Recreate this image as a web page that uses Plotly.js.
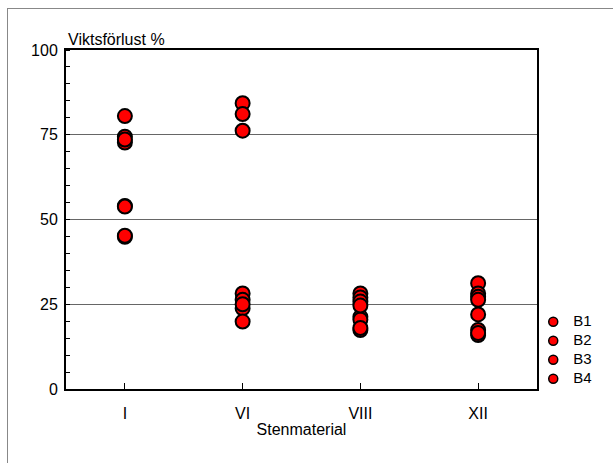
<!DOCTYPE html>
<html>
<head>
<meta charset="utf-8">
<script src="https://cdn.plot.ly/plotly-3.0.1.min.js"></script>
<style>
html,body{margin:0;padding:0;background:#fff;}
#wrap{position:relative;width:613px;height:463px;overflow:hidden;}
#frame{position:absolute;left:7px;top:8px;width:700px;height:600px;border-left:1.5px solid #888;border-top:1.5px solid #888;pointer-events:none;z-index:5;}
#chart{position:absolute;left:0;top:0;width:613px;height:463px;}
</style>
</head>
<body>
<div id="wrap"><div id="chart"></div><div id="frame"></div></div>
<script>
// Categories (stone materials)
var categories = ["I", "VI", "VIII", "XII"];
var seriesNames = ["B1", "B2", "B3", "B4"];
// Each series: two readings per category, order: I, I, VI, VI, VIII, VIII, XII, XII
var xCats = ["I", "I", "VI", "VI", "VIII", "VIII", "XII", "XII"];
var B1 = [80.5, 54.0, 84.3, 28.2, 28.2, 21.3, 31.2, 22.0];
var B2 = [74.4, 44.9, 81.1, 26.3, 27.0, 20.5, 28.2, 17.4];
var B3 = [72.7, 45.2, 76.2, 23.8, 25.8, 17.4, 27.2, 15.9];
var B4 = [73.6, 53.8, 25.0, 19.9, 24.6, 18.0, 26.3, 16.5];
var yTickVals = [0, 25, 50, 75, 100];
var yTickText = ["0", "25", "50", "75", "100"];

var seriesData = [B1, B2, B3, B4];
var traces = [];
seriesData.forEach(function(vals, i) {
  traces.push({
    type: "scatter",
    mode: "markers",
    name: seriesNames[i],
    legendgroup: seriesNames[i],
    showlegend: false,
    x: xCats,
    y: vals,
    marker: {color: "#ff0000", size: 14, line: {color: "#000", width: 2}},
    cliponaxis: false
  });
});
// legend entries (smaller symbols, like the reference key)
seriesNames.forEach(function(n) {
  traces.push({
    type: "scatter", mode: "markers",
    name: '<span style="font-size:15px">' + n + '</span>',
    legendgroup: n,
    x: [null], y: [null], showlegend: true,
    marker: {color: "#ff0000", size: 9, line: {color: "#000", width: 1.5}}
  });
});

var font = {family: "Liberation Sans, Arial, sans-serif", size: 16, color: "#000"};
var legFont = {family: "Liberation Sans, Arial, sans-serif", size: 12, color: "#000"};
var layout = {
  width: 613, height: 463,
  margin: {l: 66, r: 76, t: 50, b: 74},
  paper_bgcolor: "#fff", plot_bgcolor: "#fff",
  font: font,
  showlegend: true,
  legend: {x: 0.992, xanchor: "left", y: 0.241, yanchor: "top",
           font: legFont, itemsizing: "trace", tracegroupgap: 0, itemwidth: 30,
           bgcolor: "rgba(0,0,0,0)"},
  xaxis: {
    type: "category",
    categoryorder: "array", categoryarray: categories,
    range: [-0.5, 3.5],
    showline: true, linecolor: "#000", linewidth: 2, mirror: true,
    ticks: "inside", ticklen: 6, tickwidth: 1, tickcolor: "#000",
    ticklabelstandoff: 9,
    showgrid: false, zeroline: false,
    tickfont: font,
    title: {text: "Stenmaterial", font: font, standoff: 3}
  },
  yaxis: {
    range: [0, 100],
    tickvals: yTickVals, ticktext: yTickText,
    showline: true, linecolor: "#000", linewidth: 2, mirror: true,
    ticks: "", ticklabelstandoff: 3,
    minor: {dtick: 5, ticks: "inside", ticklen: 4, tickcolor: "#000", tickwidth: 1, showgrid: false},
    showgrid: true, gridcolor: "#666", gridwidth: 1,
    zeroline: false,
    tickfont: font
  },
  annotations: [{
    text: "Viktsförlust %", xref: "paper", yref: "paper",
    x: 0, y: 1, xanchor: "left", yanchor: "bottom", yshift: 0,
    showarrow: false, font: font
  }]
};

Plotly.newPlot("chart", traces, layout, {displayModeBar: false, staticPlot: true});
</script>
</body>
</html>
